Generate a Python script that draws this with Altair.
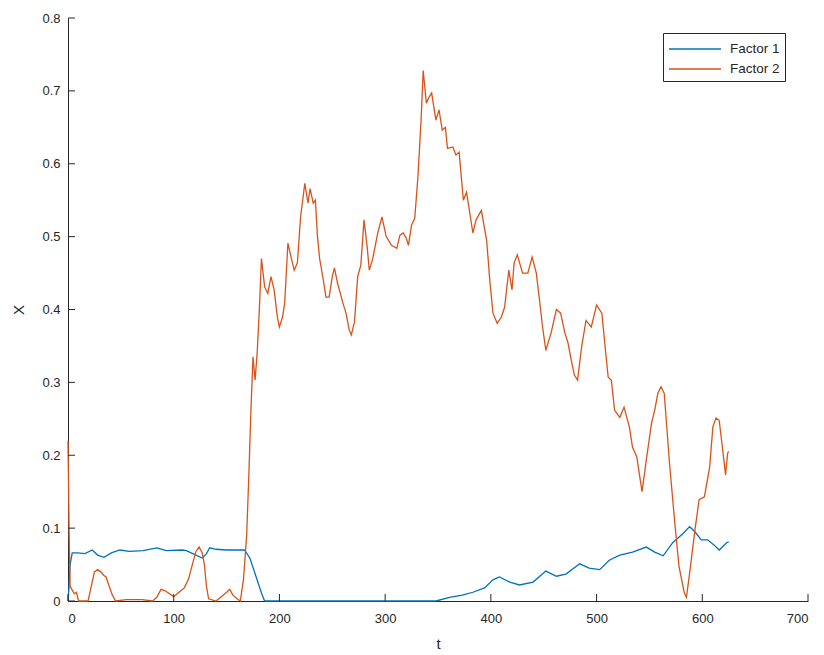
import altair as alt
import pandas as pd

# Factor 1 (blue)
t1 = [0, 1, 2, 4, 9, 16, 23, 28, 34, 41, 49, 58, 71, 84, 93, 108, 112, 121, 127, 131,
      134, 140, 150, 159, 167, 172, 178, 183, 186, 200, 250, 300, 348, 361, 373, 383,
      394, 402, 408, 418, 427, 440, 452, 462, 471, 484, 493, 503, 512, 522, 534, 547,
      555, 563, 572, 582, 588, 593, 599, 605, 611, 616, 623, 625]
f1 = [0.0, 0.02, 0.05, 0.066, 0.066, 0.065, 0.070, 0.063, 0.060, 0.066, 0.070, 0.068,
      0.069, 0.073, 0.069, 0.070, 0.069, 0.063, 0.059, 0.065, 0.073, 0.071, 0.070,
      0.070, 0.070, 0.059, 0.033, 0.011, 0.0, 0.0, 0.0, 0.0, 0.0, 0.005, 0.008, 0.012,
      0.018, 0.029, 0.033, 0.026, 0.022, 0.026, 0.041, 0.034, 0.037, 0.051, 0.045,
      0.043, 0.056, 0.063, 0.067, 0.074, 0.067, 0.062, 0.080, 0.093, 0.102, 0.095,
      0.084, 0.084, 0.077, 0.070, 0.080, 0.081]

# Factor 2 (orange)
t2 = [0, 1, 2, 4, 6, 8, 10, 15, 19, 22, 25, 28, 31, 34, 36, 39, 42, 45, 55, 70, 80, 84,
      88, 92, 96, 100, 105, 110, 114, 118, 121, 124, 127, 129, 131, 133, 140, 145, 150,
      153, 156, 160, 163, 166, 169, 171, 173, 175, 177, 179, 181, 183, 186, 189, 192,
      195, 198, 200, 203, 205, 208, 211, 214, 217, 220, 224, 227, 229, 232, 234, 236,
      238, 241, 244, 247, 250, 252, 255, 258, 260, 263, 266, 268, 271, 274, 277, 280,
      283, 285, 288, 293, 297, 301, 306, 311, 314, 317, 320, 322, 325, 328, 331, 334,
      336, 339, 341, 344, 348, 351, 354, 357, 359, 364, 367, 370, 374, 377, 383, 386,
      391, 396, 399, 402, 406, 410, 413, 417, 420, 422, 425, 430, 435, 439, 443, 446,
      449, 452, 457, 462, 466, 470, 473, 476, 479, 482, 486, 490, 495, 500, 505, 508,
      511, 514, 517, 522, 526, 531, 534, 538, 543, 547, 552, 555, 558, 561, 564, 569,
      574, 578, 583, 585, 588, 593, 597, 602, 607, 610, 613, 616, 619, 622, 624, 625]
f2 = [0.22, 0.10, 0.02, 0.015, 0.01, 0.012, 0.0, 0.0, 0.0, 0.02, 0.04, 0.043, 0.040,
      0.035, 0.033, 0.02, 0.008, 0.0, 0.002, 0.002, 0.0, 0.005, 0.016, 0.014, 0.01,
      0.006, 0.012, 0.018, 0.03, 0.052, 0.068, 0.074, 0.066, 0.05, 0.02, 0.003, 0.0,
      0.006, 0.012, 0.016, 0.008, 0.003, 0.0, 0.03, 0.09, 0.17, 0.26, 0.335, 0.303,
      0.342, 0.40, 0.470, 0.431, 0.422, 0.445, 0.427, 0.39, 0.376, 0.39, 0.409, 0.491,
      0.472, 0.454, 0.464, 0.527, 0.573, 0.546, 0.566, 0.546, 0.550, 0.50, 0.47, 0.445,
      0.417, 0.417, 0.445, 0.457, 0.436, 0.42, 0.409, 0.395, 0.372, 0.365, 0.383,
      0.445, 0.461, 0.523, 0.486, 0.454, 0.468, 0.505, 0.527, 0.50, 0.488, 0.484,
      0.502, 0.505, 0.498, 0.488, 0.516, 0.525, 0.582, 0.66, 0.728, 0.683, 0.69, 0.697,
      0.660, 0.674, 0.646, 0.650, 0.621, 0.623, 0.612, 0.616, 0.550, 0.561, 0.505,
      0.523, 0.536, 0.495, 0.44, 0.395, 0.381, 0.390, 0.403, 0.454, 0.427, 0.464,
      0.475, 0.450, 0.450, 0.472, 0.450, 0.413, 0.375, 0.344, 0.368, 0.400, 0.395,
      0.368, 0.354, 0.331, 0.31, 0.303, 0.35, 0.385, 0.376, 0.406, 0.395, 0.35, 0.307,
      0.303, 0.262, 0.252, 0.266, 0.239, 0.211, 0.198, 0.150, 0.193, 0.244, 0.262,
      0.285, 0.294, 0.285, 0.189, 0.107, 0.047, 0.011, 0.005, 0.038, 0.097, 0.139,
      0.143, 0.184, 0.239, 0.251, 0.248, 0.211, 0.173, 0.203, 0.205]

series_names = ["Factor 1", "Factor 2"]
series_colors = ["#0072BD", "#D95319"]
x_ticks = [0, 100, 200, 300, 400, 500, 600, 700]
y_ticks = [0, 0.1, 0.2, 0.3, 0.4, 0.5, 0.6, 0.7, 0.8]

df = pd.concat([
    pd.DataFrame({"t": t1, "X": f1, "series": series_names[0]}),
    pd.DataFrame({"t": t2, "X": f2, "series": series_names[1]}),
])

W, H = 740, 583
FONT = "Liberation Sans"
AX = "#262626"

xscale = alt.Scale(domain=[0, 700], nice=False)
yscale = alt.Scale(domain=[0, 0.8], nice=False)

lines = alt.Chart(df).mark_line(strokeWidth=1.3).encode(
    x=alt.X("t:Q", scale=xscale, title="t",
            axis=alt.Axis(values=x_ticks, tickSize=0, labelPadding=11, grid=False,
                          domainColor=AX, labelColor=AX, titleColor=AX,
                          labelFontSize=13, titleFontSize=15, titleFontWeight="normal",
                          titlePadding=11, labelFont=FONT, titleFont=FONT)),
    y=alt.Y("X:Q", scale=yscale, title="X",
            axis=alt.Axis(values=y_ticks, tickSize=0, labelPadding=8, grid=False,
                          domainColor=AX, labelColor=AX, titleColor=AX,
                          labelFontSize=13, titleFontSize=15, titleFontWeight="normal",
                          titlePadding=15, labelFont=FONT, titleFont=FONT,
                          format="~g")),
    color=alt.Color("series:N",
                    scale=alt.Scale(domain=series_names, range=series_colors),
                    legend=alt.Legend(title=None, orient="none", legendX=595, legendY=15,
                                      symbolType="M-1,0H4.2", symbolSize=400,
                                      symbolStrokeWidth=1.3, labelFont=FONT,
                                      labelFontSize=13.5, labelColor=AX,
                                      strokeColor=AX, fillColor="white", padding=5,
                                      rowPadding=2, labelOffset=40)),
)

xt = alt.Chart(pd.DataFrame({"t": x_ticks})).mark_rule(color=AX, strokeWidth=1).encode(
    x=alt.X("t:Q", scale=xscale), y=alt.value(H), y2=alt.value(H - 7))
yt = alt.Chart(pd.DataFrame({"X": y_ticks})).mark_rule(color=AX, strokeWidth=1).encode(
    y=alt.Y("X:Q", scale=yscale), x=alt.value(0), x2=alt.value(7))

chart = alt.layer(lines, xt, yt).properties(
    width=W, height=H,
    autosize=alt.AutoSizeParams(type="none"),
    padding={"left": 60, "top": 10, "right": 8, "bottom": 50},
).configure_view(stroke=None).configure_axis(domainWidth=1)

chart.save("out.html", embed_options={"renderer": "svg", "actions": False})
